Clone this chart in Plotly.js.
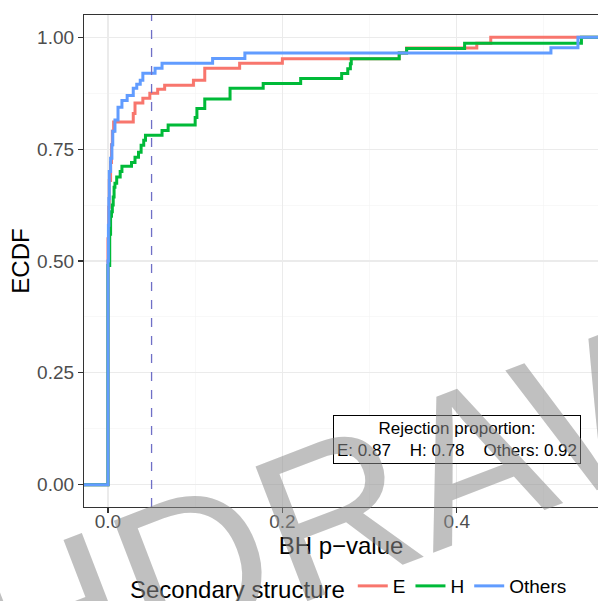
<!DOCTYPE html>
<html>
<head>
<meta charset="utf-8">
<script src="https://cdn.plot.ly/plotly-3.0.1.min.js"></script>
<style>html,body{margin:0;padding:0;background:#fff;}#chart{width:598px;height:601px;}</style>
</head>
<body>
<div id="chart"></div>
<script>
// ---- data ----
const groups = ['E', 'H', 'Others'];
const groupColors = ['#F8766D', '#00BA38', '#619CFF'];

// ECDF jump locations (BH p-value) and ECDF value after each jump
const xE = [0, 0.0008, 0.0015, 0.003, 0.004, 0.005, 0.0065, 0.029, 0.031, 0.040, 0.048, 0.057, 0.065, 0.098, 0.111, 0.151, 0.200, 0.334, 0.3425, 0.423, 0.439];
const yE = [0.55, 0.62, 0.68, 0.72, 0.76, 0.79, 0.811, 0.83, 0.853, 0.864, 0.875, 0.884, 0.893, 0.904, 0.931, 0.942, 0.952, 0.965, 0.976, 0.987, 1.0];

const xH = [0, 0.002, 0.003, 0.004, 0.005, 0.006, 0.007, 0.008, 0.010, 0.014, 0.016, 0.027, 0.031, 0.035, 0.038, 0.041, 0.043, 0.062, 0.069, 0.100, 0.102, 0.111, 0.140, 0.178, 0.221, 0.268, 0.275, 0.278, 0.279, 0.334, 0.3425, 0.409, 0.543];
const yH = [0.49, 0.56, 0.60, 0.61, 0.625, 0.643, 0.665, 0.674, 0.688, 0.700, 0.712, 0.720, 0.732, 0.743, 0.759, 0.770, 0.781, 0.792, 0.804, 0.821, 0.841, 0.862, 0.886, 0.897, 0.908, 0.919, 0.930, 0.941, 0.952, 0.965, 0.975, 0.987, 1.0];

const xO = [0, 0.0005, 0.001, 0.0015, 0.003, 0.0045, 0.0055, 0.008, 0.0115, 0.016, 0.022, 0.029, 0.033, 0.037, 0.040, 0.054, 0.062, 0.120, 0.157, 0.508, 0.539];
const yO = [0.50, 0.58, 0.64, 0.70, 0.73, 0.76, 0.79, 0.815, 0.844, 0.859, 0.870, 0.886, 0.895, 0.904, 0.920, 0.931, 0.942, 0.953, 0.965, 0.977, 1.0];

const rejectionProportion = [0.87, 0.78, 0.92];
const cutoff = 0.05;

const xTicks = [0.0, 0.2, 0.4];
const yTicks = [0.00, 0.25, 0.50, 0.75, 1.00];
const xRange = [-0.0275, 0.562];
const yRange = [-0.05, 1.05];

// ---- build ----
const FONT = 'Liberation Sans, Arial, Helvetica, sans-serif';
const seriesX = [xE, xH, xO];
const seriesY = [yE, yH, yO];

const traces = groups.map((g, i) => ({
  type: 'scatter',
  mode: 'lines',
  name: g,
  x: [xRange[0] - 1].concat(seriesX[i], [xRange[1] + 1]),
  y: [0].concat(seriesY[i], [1]),
  line: {color: groupColors[i], width: 3, shape: 'hv'},
  hoverinfo: 'skip'
}));

const labelText = 'Rejection proportion:<br>' +
  groups.map((g, i) => g + ': ' + rejectionProportion[i].toFixed(2)).join('\u00a0\u00a0\u00a0\u00a0');

const layout = {
  width: 598, height: 601,
  margin: {l: 84, r: 0, t: 15, b: 94, autoexpand: false},
  paper_bgcolor: '#fff', plot_bgcolor: '#fff',
  font: {family: FONT, color: '#000'},
  showlegend: true,
  xaxis: {
    range: xRange, tickvals: xTicks, ticktext: xTicks.map(v => v.toFixed(1)),
    automargin: false,
    showgrid: true, gridcolor: '#EBEBEB', gridwidth: 1.1,
    minor: {tickvals: [0.1, 0.3, 0.5], showgrid: true, gridcolor: '#F4F4F4', gridwidth: 0.6, ticks: ''},
    zeroline: false, showline: true, linecolor: '#333333', linewidth: 1.1, mirror: true,
    ticks: 'outside', ticklen: 5, tickcolor: '#333333', tickwidth: 1.1,
    ticklabelstandoff: -8,
    tickfont: {size: 19, color: '#4D4D4D', family: FONT},
    title: {text: 'BH p\u2212value', font: {size: 24, color: '#000', family: FONT}, standoff: 4}
  },
  yaxis: {
    range: yRange, tickvals: yTicks, ticktext: yTicks.map(v => v.toFixed(2)),
    automargin: false,
    showgrid: true, gridcolor: '#EBEBEB', gridwidth: 1.1,
    minor: {tickvals: [0.125, 0.375, 0.625, 0.875], showgrid: true, gridcolor: '#F4F4F4', gridwidth: 0.6, ticks: ''},
    zeroline: false, showline: true, linecolor: '#333333', linewidth: 1.1, mirror: false,
    ticks: 'outside', ticklen: 5, tickcolor: '#333333', tickwidth: 1.1,
    tickfont: {size: 19, color: '#4D4D4D', family: FONT},
    title: {text: 'ECDF', font: {size: 24, color: '#000', family: FONT}, standoff: 0}
  },
  legend: {
    orientation: 'h', x: 0.0856, xanchor: 'left', y: -0.122, yanchor: 'top',
    title: {text: 'Secondary structure', side: 'left', font: {size: 24, family: FONT, color: '#000'}},
    font: {size: 19, family: FONT, color: '#000'},
    itemwidth: 30, bgcolor: 'rgba(0,0,0,0)', traceorder: 'normal'
  },
  shapes: [{
    type: 'line', xref: 'x', yref: 'paper', x0: cutoff, x1: cutoff, y0: 0, y1: 1,
    line: {color: '#6F6FC6', width: 1.3, dash: 'dash'}, layer: 'above'
  }],
  annotations: [
    {
      xref: 'x', yref: 'y', x: 0.4, y: 0.1, text: labelText, showarrow: false,
      font: {size: 17, family: FONT, color: '#000'}, align: 'center',
      bgcolor: '#fff', bordercolor: '#000', borderwidth: 1, borderpad: 3
    },
    {
      xref: 'paper', yref: 'paper', x: 0.303, y: -0.087, text: 'WITHDRAWN', showarrow: false,
      textangle: -21, font: {size: 210, family: FONT, color: 'rgba(140,140,140,0.55)'},
      xanchor: 'center', yanchor: 'middle'
    }
  ]
};

Plotly.newPlot('chart', traces, layout, {staticPlot: true, displayModeBar: false});
</script>
</body>
</html>
